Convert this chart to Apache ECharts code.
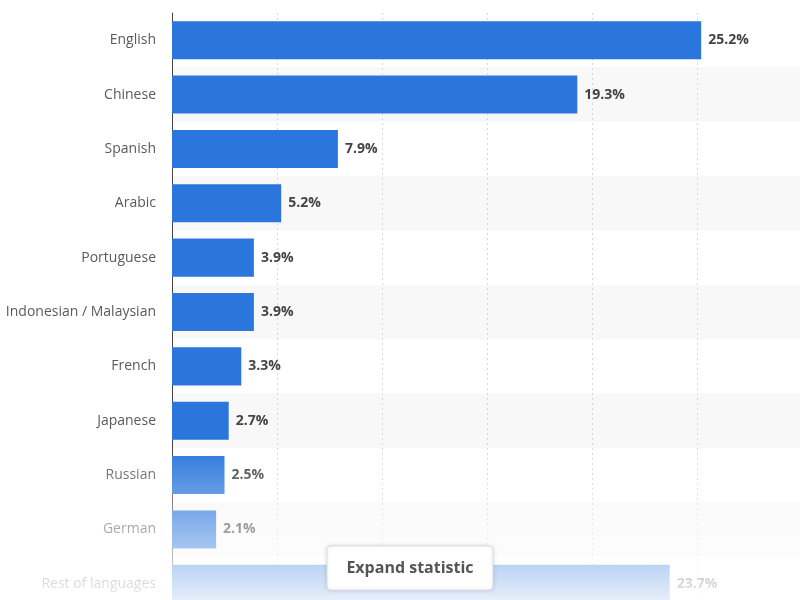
<!DOCTYPE html>
<html>
<head>
<meta charset="utf-8">
<script src="https://cdn.jsdelivr.net/npm/echarts@6/dist/echarts.min.js"></script>
<style>
  html, body { margin: 0; padding: 0; background: #fff; }
  #main { width: 800px; height: 600px; }
</style>
</head>
<body>
<div id="main"></div>
<script>
var languages = ['English', 'Chinese', 'Spanish', 'Arabic', 'Portuguese',
    'Indonesian / Malaysian', 'French', 'Japanese', 'Russian', 'German', 'Rest of languages'];
var shares = [25.2, 19.3, 7.9, 5.2, 3.9, 3.9, 3.3, 2.7, 2.5, 2.1, 23.7];

var myChart = echarts.init(document.getElementById('main'));

var option = {
    animation: false,
    textStyle: { fontFamily: 'Open Sans' },
    grid: {
        left: 172,
        top: 13,
        width: 630,
        height: 598,
        outerBoundsMode: 'none'
    },
    xAxis: {
        type: 'value',
        min: 0,
        max: 30,
        interval: 5,
        axisLabel: { show: false },
        axisLine: { show: false },
        axisTick: { show: false },
        splitLine: {
            show: true,
            lineStyle: { color: '#d8d8d8', type: [2, 3] }
        }
    },
    yAxis: {
        type: 'category',
        inverse: true,
        data: languages,
        axisTick: { show: false },
        axisLine: { lineStyle: { color: '#444', width: 1 } },
        axisLabel: {
            color: '#5a5a5a',
            fontSize: 14,
            margin: 16
        },
        splitArea: {
            show: true,
            areaStyle: { color: ['rgba(255,255,255,0)', '#f8f8f8'] }
        }
    },
    series: [
        {
            type: 'bar',
            data: shares,
            barWidth: '70%',
            itemStyle: { color: '#2a76dd' },
            label: {
                show: true,
                position: 'right',
                distance: 7,
                color: '#444',
                fontSize: 14,
                fontWeight: 'bold',
                formatter: function (p) { return p.value.toFixed(1) + '%'; }
            }
        }
    ],
    graphic: [
        {
            // fade-out toward the bottom
            type: 'rect',
            z: 100,
            shape: { x: 0, y: 445, width: 800, height: 155 },
            style: {
                fill: new echarts.graphic.LinearGradient(0, 0, 0, 1, [
                    { offset: 0, color: 'rgba(255,255,255,0)' },
                    { offset: 1, color: 'rgba(255,255,255,0.88)' }
                ])
            },
            silent: true
        },
        {
            type: 'rect',
            z: 110,
            shape: { x: 327, y: 546, width: 166, height: 44, r: 4 },
            style: {
                fill: '#fff',
                stroke: '#dcdcdc',
                lineWidth: 1,
                shadowBlur: 4,
                shadowColor: 'rgba(0,0,0,0.12)'
            }
        },
        {
            type: 'text',
            z: 111,
            style: {
                x: 410,
                y: 568,
                text: 'Expand statistic',
                align: 'center',
                verticalAlign: 'middle',
                fill: '#555',
                font: 'bold 16px "Open Sans"'
            }
        }
    ]
};

myChart.setOption(option);
</script>
</body>
</html>
